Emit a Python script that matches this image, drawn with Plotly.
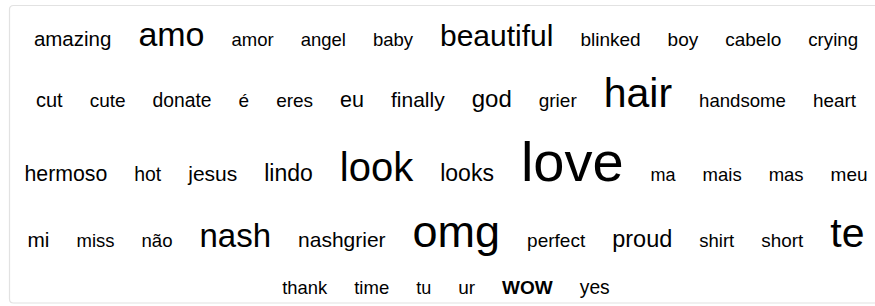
import plotly.graph_objects as go

# ---- data: words and their font sizes (px), in display order ----
words = ["amazing", "amo", "amor", "angel", "baby", "beautiful", "blinked", "boy", "cabelo", "crying",
         "cut", "cute", "donate", "é", "eres", "eu", "finally", "god", "grier", "hair", "handsome", "heart",
         "hermoso", "hot", "jesus", "lindo", "look", "looks", "love", "ma", "mais", "mas", "meu",
         "mi", "miss", "não", "nash", "nashgrier", "omg", "perfect", "proud", "shirt", "short", "te",
         "thank", "time", "tu", "ur", "WOW", "yes"]
sizes = [20.5, 34, 18.5, 18.5, 18.5, 30, 19, 19, 19, 18.7,
         20, 19, 19.3, 19, 19, 21.5, 21, 24, 19, 41, 18.6, 18.9,
         21.3, 19.4, 21, 23, 40, 23, 56, 18, 18.5, 18.5, 19,
         20.8, 18.5, 18.6, 33, 21, 45, 19, 23.5, 18.5, 18.9, 41,
         18.4, 18.5, 18, 19, 19, 19.3]
bold_words = ["WOW"]

# ---- layout parameters (style) ----
W, H = 875, 306
CENTER_X = 446
CONTAINER_W = 890
GAP = 27          # horizontal space between words
VM = 6.85         # vertical margin per word
LH = 1.11         # line-height ratio
MIN_LINE = 33     # minimum line box (px)
TOP = 8.35
ASC, DESC = 0.905, 0.212

# Arial advance widths (per em)
REG = dict(a=.556, b=.556, c=.5, d=.556, e=.556, f=.278, g=.556, h=.556, i=.222, j=.222, k=.5,
           l=.222, m=.833, n=.556, o=.556, p=.556, q=.556, r=.333, s=.5, t=.278, u=.556, v=.5,
           w=.722, x=.5, y=.5, z=.5)
REG.update({"é": .556, "ã": .556})
BOLD = dict(W=.944, O=.778)


def text_width(w, f, bold):
    table = BOLD if bold else REG
    return sum(table.get(ch, .556) for ch in w) * f


def above(f):
    lh = max(LH * f, MIN_LINE)
    return VM + (lh - (ASC + DESC) * f) / 2 + ASC * f


def below(f):
    lh = max(LH * f, MIN_LINE)
    return VM + (lh - (ASC + DESC) * f) / 2 + DESC * f


# flow layout into rows
rows, cur, cur_w = [], [], 0
for w, f in zip(words, sizes):
    b = w in bold_words
    tw = text_width(w, f, b)
    if cur and cur_w + tw + GAP > CONTAINER_W:
        rows.append(cur)
        cur, cur_w = [], 0
    cur.append((w, f, b, tw))
    cur_w += tw + GAP
if cur:
    rows.append(cur)

xs, ys, texts, fs = [], [], [], []
top = TOP
for row in rows:
    base = top + max(above(f) for _, f, _, _ in row)
    bottom = base + max(below(f) for _, f, _, _ in row)
    total = sum(tw + GAP for *_, tw in row)
    x = CENTER_X - total / 2
    for w, f, b, tw in row:
        xs.append(x + GAP / 2 + tw / 2)
        ys.append(base - 0.25 * f)
        texts.append(f"<b>{w}</b>" if b else w)
        fs.append(f)
        x += tw + GAP
    top = bottom

fig = go.Figure(go.Scatter(
    x=xs, y=ys, mode="text", text=texts, textposition="middle center",
    textfont=dict(size=fs, color="#000000", family="Liberation Sans, Arial, Helvetica, sans-serif"),
    hoverinfo="skip", cliponaxis=False, showlegend=False))

# container box with rounded corners
x0, y0, x1, y1, r = 9.5, 5.5, 884, 303, 4
path = (f"M{x0 + r},{y0} L{x1 - r},{y0} Q{x1},{y0} {x1},{y0 + r} L{x1},{y1 - r} Q{x1},{y1} {x1 - r},{y1} "
        f"L{x0 + r},{y1} Q{x0},{y1} {x0},{y1 - r} L{x0},{y0 + r} Q{x0},{y0} {x0 + r},{y0} Z")
fig.add_shape(type="path", path=path, xref="x", yref="y",
              line=dict(color="#e2e2e2", width=1.2), fillcolor="rgba(0,0,0,0)", layer="below")

fig.update_layout(
    width=W, height=H, autosize=False,
    margin=dict(l=0, r=0, t=0, b=0),
    paper_bgcolor="white", plot_bgcolor="white",
    xaxis=dict(range=[0, W], visible=False, fixedrange=True),
    yaxis=dict(range=[H, 0], visible=False, fixedrange=True),
)
fig.write_html("out.html", config={"displayModeBar": False},
               post_script="document.body.style.margin='0';document.body.style.overflow='hidden';")
